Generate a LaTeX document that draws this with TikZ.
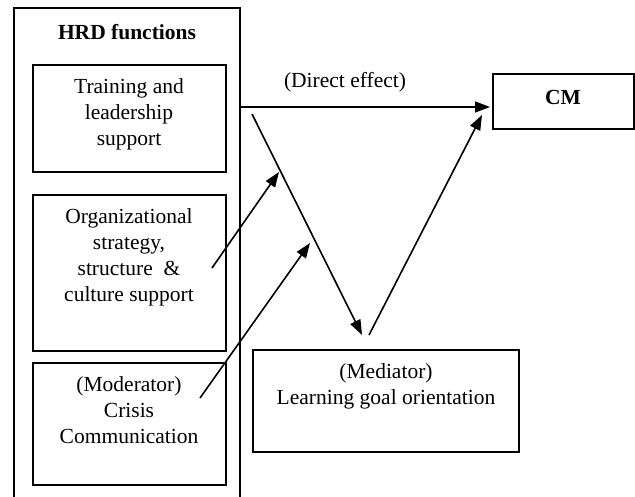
\documentclass[tikz,border=0pt]{standalone}
\usepackage{fontspec}
\setmainfont{Liberation Serif}
\usetikzlibrary{arrows.meta}
\begin{document}
\begin{tikzpicture}[x=1pt,y=-1pt,
  box/.style={draw,line width=1.5pt,inner sep=0pt},
  lbl/.style={font=\fontsize{21.5}{26}\selectfont,align=center,inner sep=0pt},
  arr/.style={line width=1.6pt,-{Triangle[length=15pt,width=11pt]}}]
\useasboundingbox (0,0) rectangle (635,497);
% outer HRD frame (open at the bottom)
\draw[line width=1.5pt] (14,497) -- (14,8) -- (240,8) -- (240,497);
\node[lbl,font=\fontsize{21.5}{26}\selectfont\bfseries] (hrd) at (127,32) {HRD functions};
% boxes
\node[box,minimum width=193pt,minimum height=107pt] (train) at (129.5,118.5) {};
\node[box,minimum width=193pt,minimum height=156pt] (org) at (129.5,273) {};
\node[box,minimum width=193pt,minimum height=122pt] (mod) at (129.5,424) {};
\node[box,minimum width=266pt,minimum height=102pt] (med) at (386,401) {};
\node[box,minimum width=141pt,minimum height=55pt] (cm) at (563.5,101.5) {};
% texts
\node[lbl] (trainT) at (129,114) {Training and\\leadership\\support};
\node[lbl] (orgT) at (129,257) {Organizational\\strategy,\\structure~~\&\\culture support};
\node[lbl] (modT) at (129,410) {(Moderator)\\Crisis\\Communication};
\node[lbl] (medT) at (386,386.5) {(Mediator)\\Learning goal orientation};
\node[lbl,font=\fontsize{21.5}{26}\selectfont\bfseries] (cmT) at (563,97) {CM};
\node[lbl] (dirT) at (345,82) {(Direct effect)};
% connector end points
\coordinate (dA) at (240,107);
\coordinate (dB) at (490,107);
\coordinate (gA) at (252,114);
\coordinate (gB) at (362,335);
\coordinate (uA) at (369,335);
\coordinate (uB) at (482,115);
\coordinate (oA) at (212,268);
\coordinate (oB) at (279,172);
\coordinate (mA) at (200,398);
\coordinate (mB) at (310,243);
% arrows
\draw[arr] (dA) -- (dB);
\draw[arr] (gA) -- (gB);
\draw[arr] (uA) -- (uB);
\draw[arr] (oA) -- (oB);
\draw[arr] (mA) -- (mB);
\end{tikzpicture}
\end{document}
